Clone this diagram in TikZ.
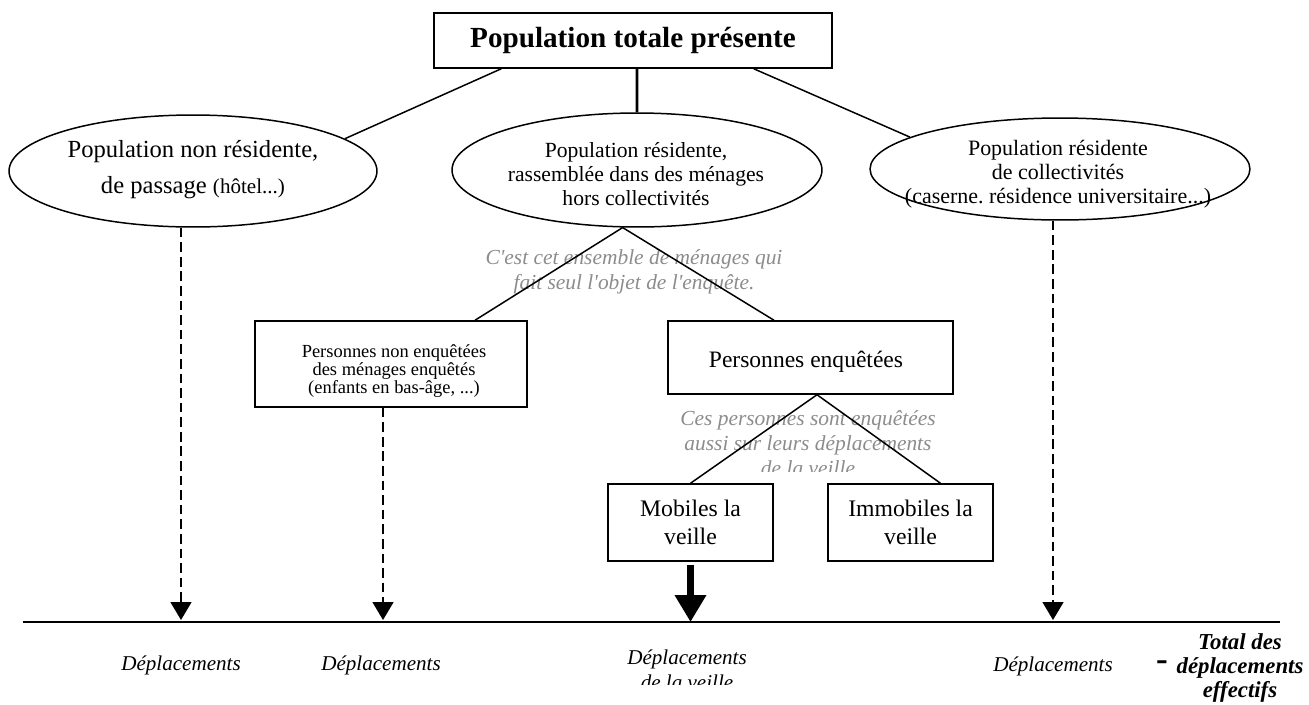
\documentclass[tikz,border=0pt]{standalone}
\usepackage{fontspec}
\setmainfont{Liberation Serif}
\usetikzlibrary{shapes.geometric,arrows.meta}
\definecolor{grisclair}{RGB}{140,140,140}

\begin{document}
\begin{tikzpicture}[x=0.02cm, y=-0.02cm, line width=0.85pt,
	boite/.style={draw, rectangle, inner sep=0pt, align=center},
	bulle/.style={draw, ellipse, inner sep=0pt},
	texte/.style={align=center, inner sep=0pt},
	gris/.style={texte, text=grisclair, font=\itshape\fontsize{12.2}{14.2}\selectfont},
	depl/.style={texte, font=\itshape\fontsize{12}{14.5}\selectfont},
	pointille/.style={dash pattern=on 5.5pt off 2.8pt, -{Triangle[width=0.42cm, length=0.36cm]}},
	epaisse/.style={line width=4pt, -{Triangle[width=0.6cm, length=0.54cm]}}]
	\useasboundingbox (0,0) rectangle (1309,704);
	\node [boite, minimum width=7.96cm, minimum height=1.1cm, font=\bfseries\fontsize{16.6}{20}\selectfont] (total) at (633,40.5) {Population totale présente};
	\node [bulle, minimum width=7.36cm, minimum height=2.24cm] (nonres) at (193,171) {};
	\node [texte, font=\fontsize{14}{20.5}\selectfont] (nonres-t) at (193,170) {Population non résidente,\\de passage {\fontsize{12}{20.5}\selectfont(hôtel...)}};
	\node [bulle, minimum width=7.4cm, minimum height=2.28cm] (resmen) at (637,170) {};
	\node [texte, font=\fontsize{12.3}{13.8}\selectfont] (resmen-t) at (636,174) {Population résidente,\\rassemblée dans des ménages\\hors collectivités};
	\node [bulle, minimum width=7.6cm, minimum height=2.04cm] (coll) at (1060,169) {};
	\node [texte, font=\fontsize{12.5}{13.8}\selectfont] (coll-t) at (1058,174) {Population résidente\\de collectivités\\(caserne.\ résidence universitaire...)};
	\node [boite, minimum width=5.44cm, minimum height=1.72cm] (nonenq) at (391,364) {};
	\node [texte, font=\fontsize{10.5}{10.4}\selectfont] (nonenq-t) at (394,371) {Personnes non enquêtées\\des ménages enquêtés\\(enfants en bas-âge, ...)};
	\node [boite, minimum width=5.7cm, minimum height=1.46cm] (enq) at (810.5,357.5) {};
	\node [texte, font=\fontsize{13.4}{16}\selectfont] (enq-t) at (806,362) {Personnes enquêtées};
	\node [boite, minimum width=3.3cm, minimum height=1.54cm, font=\fontsize{13.5}{16}\selectfont] (mob) at (690.5,522.5) {Mobiles la\\veille};
	\node [boite, minimum width=3.3cm, minimum height=1.54cm, font=\fontsize{13.5}{16}\selectfont] (immob) at (910.5,522.5) {Immobiles la\\veille};
	\node [gris] (rem1) at (634,272) {C\textquotesingle est cet ensemble de ménages qui\\fait seul l\textquotesingle objet de l\textquotesingle enquête.};
	\begin{scope}
		\clip (600,400) rectangle (1000,471);
		\node [gris] (rem2) at (808,443) {Ces personnes sont enquêtées\\aussi sur leurs déplacements\\de la veille};
	\end{scope}
	\coordinate (g) at (23,622);
	\coordinate (d) at (1280,622);
	\coordinate (b1) at (181,620);
	\coordinate (b2) at (383,620);
	\coordinate (b3) at (690.5,622);
	\coordinate (b4) at (1053,620);
	\draw [line width=1.1pt] (g) -- (d);
	\draw ([xshift=1.36cm]total.south west) -- (nonres.12);
	\draw [line width=1.7pt] ([xshift=0.08cm]total.south) -- (resmen.north);
	\draw ([xshift=-1.58cm]total.south east) -- (coll.168);
	\draw (resmen.256) -- ([xshift=1.68cm]nonenq.north);
	\draw (resmen.256) -- ([xshift=-0.73cm]enq.north);
	\draw ([xshift=0.13cm]enq.south) -- (mob.north);
	\draw ([xshift=0.13cm]enq.south) -- ([xshift=0.6cm]immob.north);
	\draw [pointille] (nonres.south -| b1) -- (b1);
	\draw [pointille] (nonenq.south -| b2) -- (b2);
	\draw [pointille] (coll.south -| b4) -- (b4);
	\draw [epaisse] ([yshift=-0.06cm]mob.south) -- (b3);
	\node [depl] (dep1) at (181,665) {Déplacements};
	\node [depl] (dep2) at (381,665) {Déplacements};
	\begin{scope}
		\clip (560,640) rectangle (820,684);
		\node [depl] (dep3) at (687,670) {Déplacements\\de la veille};
	\end{scope}
	\node [depl] (dep4) at (1053,666) {Déplacements};
	\node [texte, font=\bfseries\fontsize{20}{20}\selectfont] (moins) at (1162,666) {-};
	\node [texte, font=\bfseries\itshape\fontsize{13}{13.6}\selectfont] (total-d) at (1240,668) {Total des\\déplacements\\effectifs};
\end{tikzpicture}
\end{document}
